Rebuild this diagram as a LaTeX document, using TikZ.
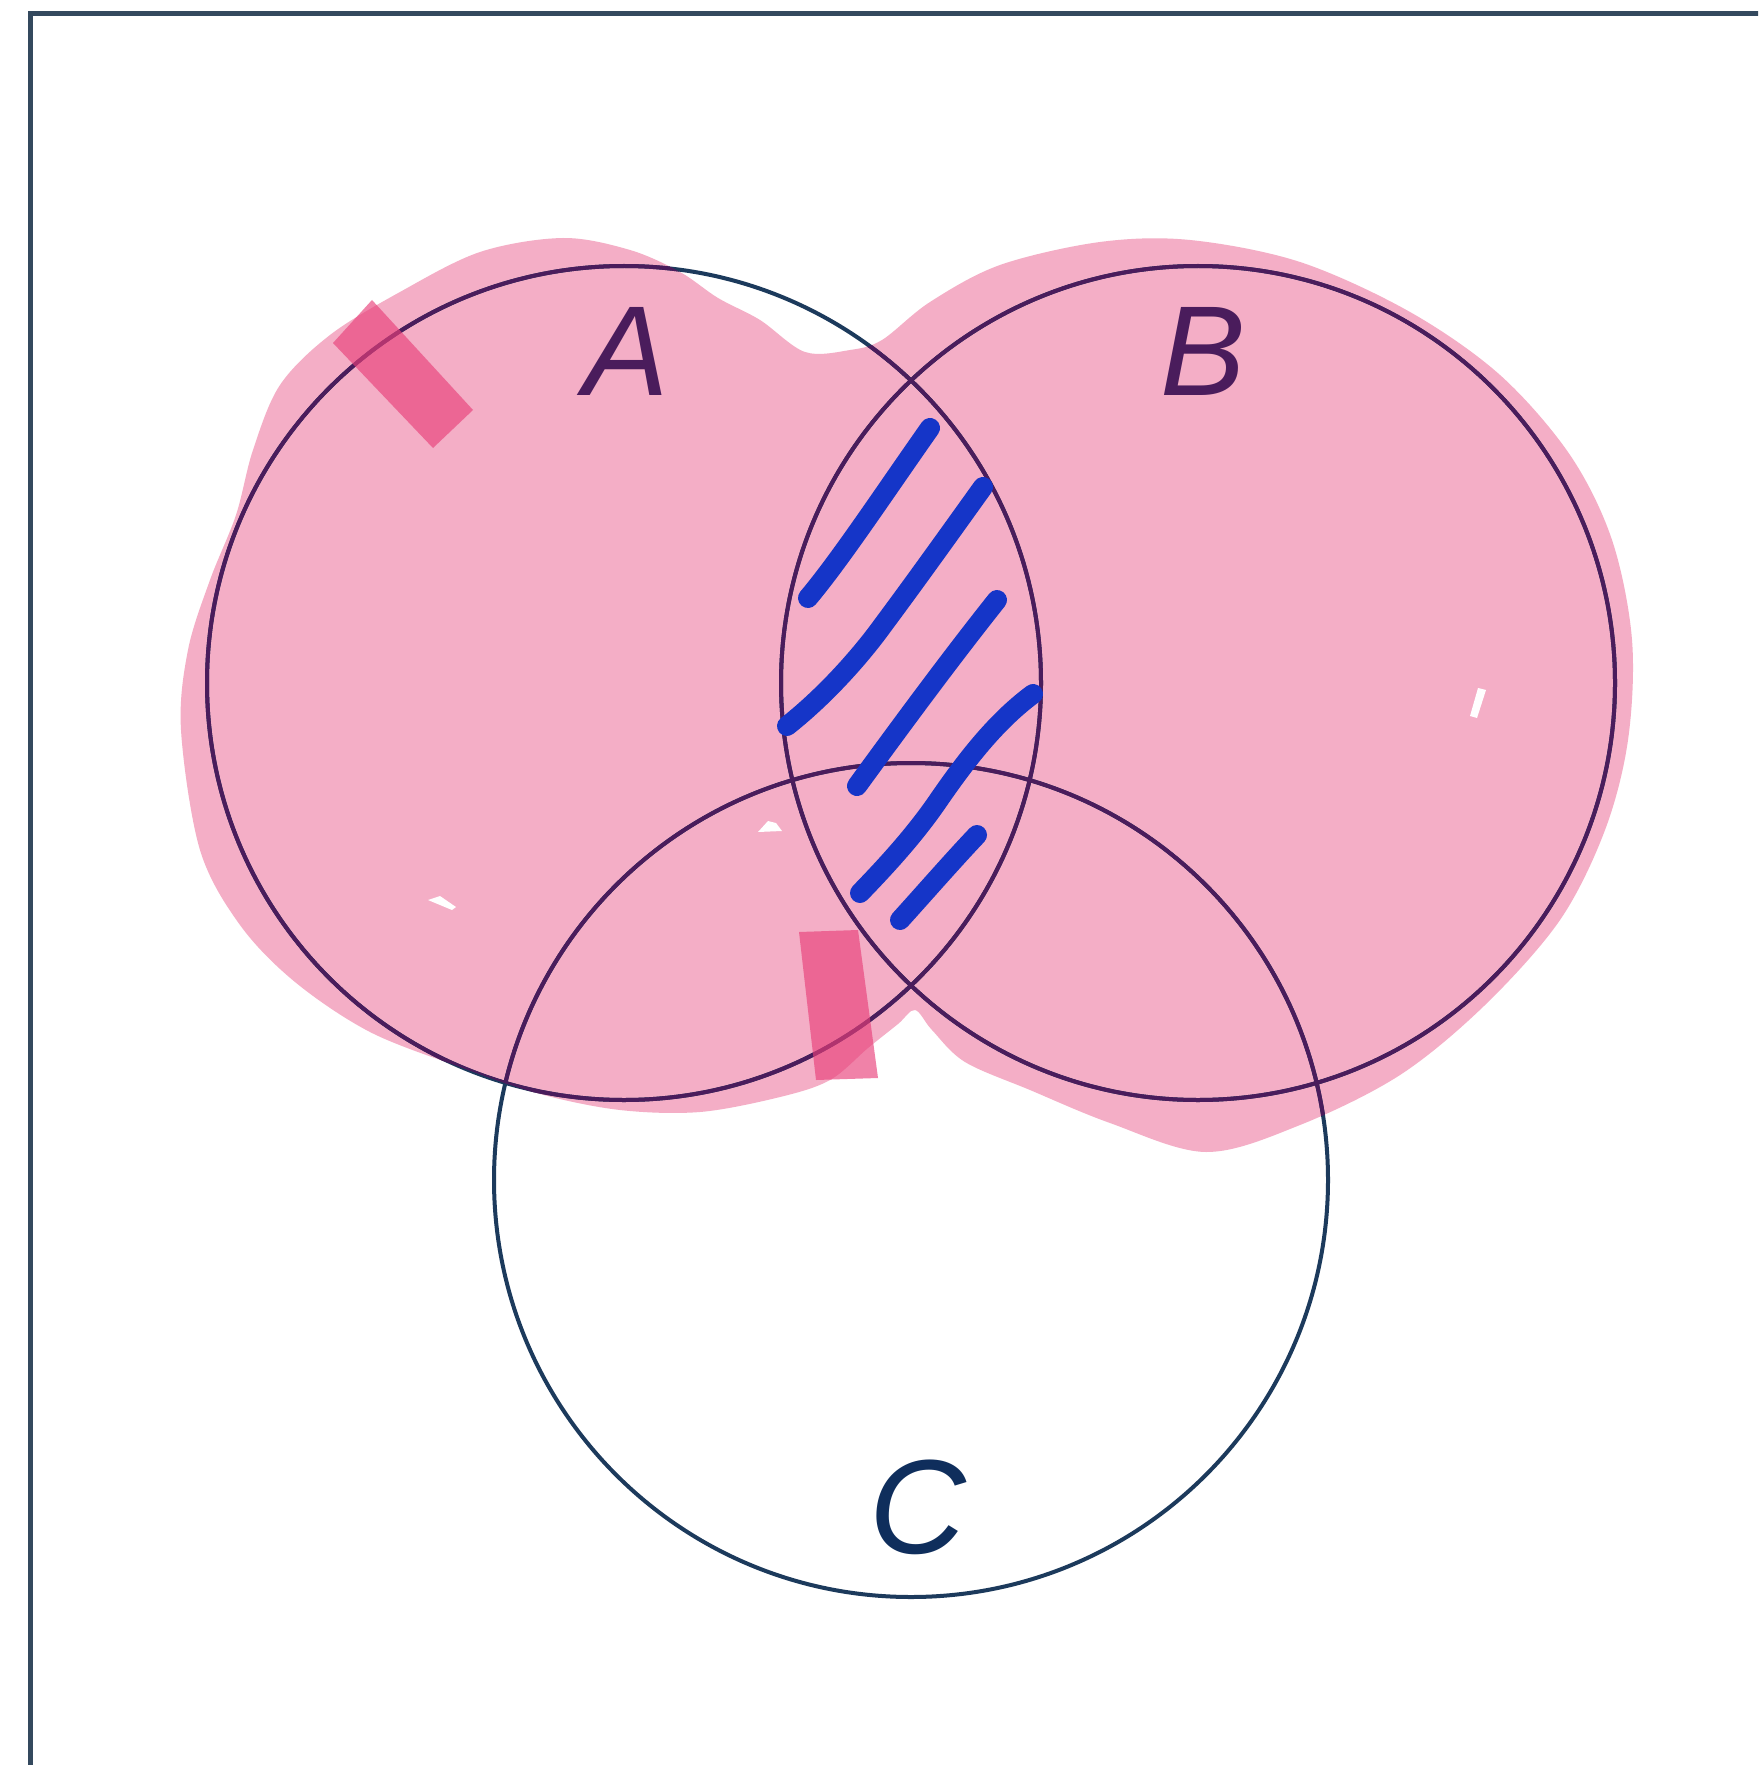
\documentclass[tikz,border=0pt]{standalone}
\usepackage{fontspec}
\setmainfont{Liberation Sans}
\definecolor{navy}{HTML}{1C3A5C}
\definecolor{plum}{HTML}{4A1C5C}
\definecolor{blobpink}{HTML}{F4AEC6}
\definecolor{hotpink}{HTML}{E8407A}
\definecolor{penblue}{HTML}{1535C8}
\definecolor{framecol}{HTML}{34495E}
\definecolor{labelnavy}{HTML}{0F2E5C}
\begin{document}
\begin{tikzpicture}[x=0.5pt,y=-0.5pt,
  setline/.style={line width=2pt},
  pen/.style={penblue, line width=10pt, line cap=round, line join=round},
  tape/.style={fill=hotpink, fill opacity=0.65},
  lbl/.style={font=\fontsize{64}{64}\selectfont\itshape, inner sep=0pt},
  speck/.style={fill=white}]
\useasboundingbox (0,0) rectangle (1758,1765);
\clip (0,0) rectangle (1758,1765);
\fill[white] (0,0) rectangle (1758,1765);
\draw[framecol, line width=2.5pt] (30,14) rectangle (1800,1820);

\coordinate (A) at (624,683);
\coordinate (B) at (1198,683);
\coordinate (C) at (911,1180);

% pink blob
\path[save path=\blobpath] plot[smooth cycle, tension=0.55] coordinates {
 (181,730) (188,650) (210,580) (236,515) (253,450) (280,385) (330,335)
 (400,292) (480,252) (563,238) (630,250) (680,272) (718,298) (760,320)
 (805,352) (850,350) (882,340) (930,302) (1000,265) (1100,242) (1190,240)
 (1300,262) (1410,312) (1500,375) (1570,455) (1612,540) (1632,640)
 (1628,740) (1605,830) (1560,920) (1485,1005) (1400,1075) (1300,1125)
 (1206,1152) (1110,1123) (1030,1090) (965,1062) (932,1030) (915,1010)
 (898,1024) (868,1048) (830,1080) (780,1097) (700,1112) (620,1110)
 (540,1094) (460,1067) (370,1032) (295,982) (240,925) (200,850)
};
\fill[blobpink, use path=\blobpath];

% white specks in the colouring
\fill[speck] (758,832) -- (768,821) -- (776,823) -- (782,831) -- cycle;
\fill[speck] (428,900) -- (440,896) -- (456,907) -- (452,910) -- cycle;
\fill[speck] (1478,688) -- (1486,690) -- (1477,718) -- (1470,716) -- cycle;

% set outlines
\draw[navy, setline] (A) circle[radius=417];
\draw[navy, setline] (B) circle[radius=417];
\draw[navy, setline] (C) circle[radius=417];
\begin{scope}
  \clip[use path=\blobpath];
  \draw[plum, setline] (A) circle[radius=417];
  \draw[plum, setline] (B) circle[radius=417];
  \draw[plum, setline] (C) circle[radius=417];
\end{scope}

% labels
\node[lbl, text=plum] (labA) at (626,351) {A};
\node[lbl, text=plum] (labB) at (1203,351) {B};
\node[lbl, text=labelnavy, font=\fontsize{67}{67}\selectfont\itshape] (labC) at (918,1507) {C};

% highlighter tape marks
\fill[tape] (333,343) -- (372,300) -- (473,410) -- (433,448) -- cycle;
\fill[tape] (799,932) -- (858,930) -- (878,1078) -- (816,1080) -- cycle;

% blue hatching of A and B
\draw[pen] (808,598) .. controls (840,560) and (885,492) .. (930,428);
\draw[pen] (787,726) .. controls (830,692) and (865,650) .. (883,625)
                     .. controls (915,582) and (950,533) .. (983,487);
\draw[pen] (857,786) .. controls (900,727) and (950,659) .. (997,600);
\draw[pen] (860,893) .. controls (890,862) and (917,832) .. (940,798)
                     .. controls (965,762) and (995,722) .. (1033,694);
\draw[pen] (900,920) .. controls (920,898) and (955,858) .. (977,835);
\end{tikzpicture}
\end{document}
